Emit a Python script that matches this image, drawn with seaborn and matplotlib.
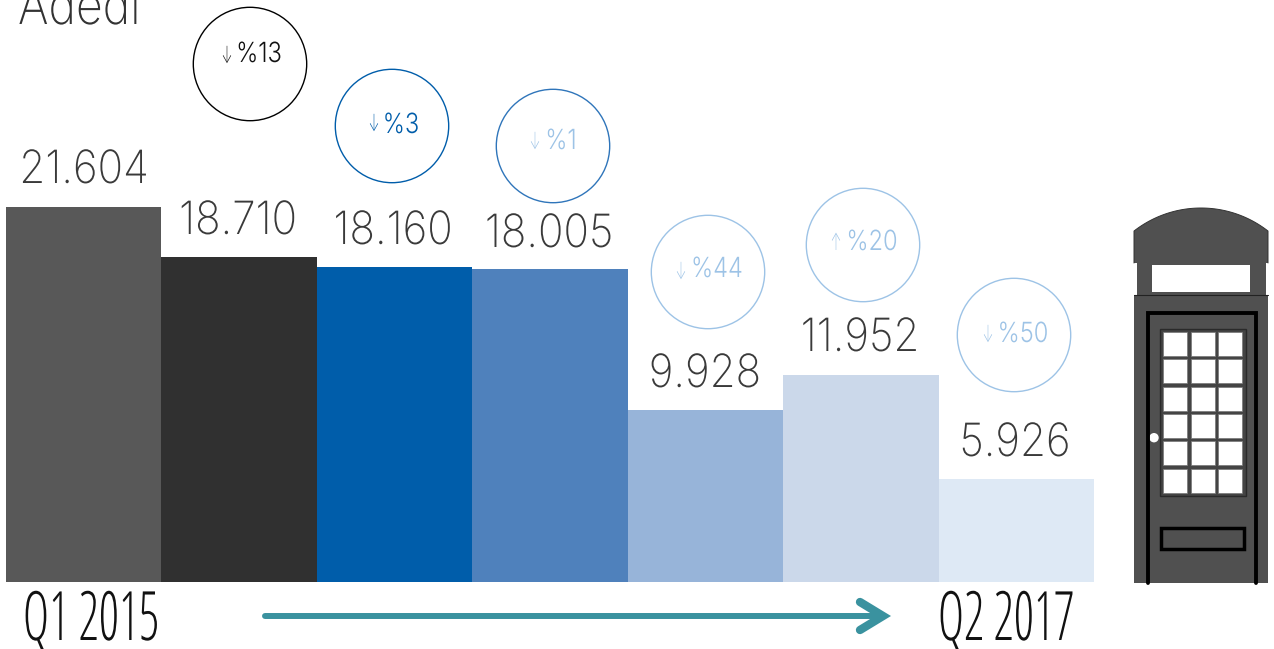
# %%
import matplotlib
matplotlib.use('Agg')
import matplotlib.pyplot as plt
from matplotlib.patches import Circle, Rectangle, Polygon
from matplotlib.patheffects import AbstractPathEffect
from matplotlib.transforms import Affine2D
import numpy as np
import pandas as pd
import seaborn as sns

# %%
# Dados
quarters = ['q1', 'q2', 'q3', 'q4', 'q5', 'q6', 'q7']
visits = [21604, 18710, 18160, 18005, 9928, 11952, 5926]
value_labels = ['21.604', '18.710', '18.160', '18.005', '9.928', '11.952', '5.926']
bar_colors = ['#585858', '#303030', '#005DAA', '#4F81BC', '#97B4D9', '#CBD8EA', '#DEE9F5']
change_labels = ['%13', '%3', '%1', '%44', '%20', '%50']
change_arrows = ['↓', '↓', '↓', '↓', '↑', '↓']
change_colors = ['#000000', '#005DAA', '#2F75BA', '#9DC3E6', '#9DC3E6', '#9DC3E6']
text_colors = ['#111111', '#005DAA', '#9DC3E6', '#9DC3E6', '#9DC3E6', '#9DC3E6']
start_label = 'Q1 2015'
end_label = 'Q2 2017'
title = 'Adedi'

# posicoes em pixels
label_xy = [(84, 183), (238, 234), (393, 244), (549, 247), (705, 387), (860, 351), (1015, 456)]
circle_xy = [(250, 64), (392, 126), (553, 146), (708, 272), (863, 245), (1014, 335)]
pct_xy = [(259, 62), (401, 133), (561, 149), (717, 277), (872, 250), (1023, 342)]
arrow_xy = [(227, 57), (374, 125), (535, 143), (681, 273), (836, 244), (988, 336)]

W, H = 1274, 649
sns.set_theme(style='white')
plt.rcParams['font.family'] = ['Inter', 'DejaVu Sans']


class SqueezeX(AbstractPathEffect):
    # aperta o texto na horizontal em torno de cx (pixels)
    def __init__(self, sx, cx):
        super().__init__()
        self.sx = sx
        self.cx = cx

    def draw_path(self, renderer, gc, tpath, affine, rgbFace=None):
        squeeze = Affine2D().translate(-self.cx, 0).scale(self.sx, 1).translate(self.cx, 0)
        renderer.draw_path(gc, tpath, affine + squeeze, rgbFace)


fig = plt.figure(figsize=(W / 100, H / 100), dpi=100)

# %%
# Barras
base = 582
ax = fig.add_axes([6 / W, (H - base) / H, (1094 - 6) / W, base / H])
df = pd.DataFrame({'quarter': quarters, 'visits': visits})
sns.barplot(data=df, x='quarter', y='visits', hue='quarter', palette=bar_colors,
            width=1, dodge=False, legend=False, saturation=1, linewidth=0, edgecolor='none', ax=ax)
ax.set_xlim(-0.5, 6.5)
ax.set_ylim(0, max(visits) * base / 375)
ax.axis('off')

# %%
# Camada em pixels
ov = fig.add_axes([0, 0, 1, 1])
ov.set_xlim(0, W)
ov.set_ylim(H, 0)
ov.axis('off')
ov.patch.set_alpha(0)

for (x, y), txt in zip(label_xy, value_labels):
    ov.text(x, y, txt, ha='center', va='baseline', fontsize=33, fontweight=200, color='#3a3a3a',
            path_effects=[SqueezeX(0.92, x)])

for (x, y), c in zip(circle_xy, change_colors):
    ov.add_patch(Circle((x, y), 56.7, fill=False, ec=c, lw=1))
for (x, y), txt, c in zip(pct_xy, change_labels, text_colors):
    ov.text(x, y, txt, ha='center', va='baseline', fontsize=20, fontweight=300, color=c,
            path_effects=[SqueezeX(0.85, x)])
for (x, y), txt, c in zip(arrow_xy, change_arrows, text_colors):
    ov.text(x, y, txt, ha='center', va='center', fontsize=17, fontweight=200, color=c,
            path_effects=[SqueezeX(0.55, x)])

ov.text(18, 24, title, ha='left', va='baseline', fontsize=38, fontweight=200, color='#333333',
        path_effects=[SqueezeX(0.88, 18)])

for x, txt in [(91, start_label), (1006, end_label)]:
    ov.text(x, 640, txt, ha='center', va='baseline', fontsize=49, color='#111111',
            family='Open Sans', fontweight=300, fontstretch='condensed',
            path_effects=[SqueezeX(0.74, x)])

# Seta
teal = '#3A929F'
ov.plot([265, 880], [616, 616], color=teal, lw=4.3, solid_capstyle='round')
ov.plot([860, 883, 860], [602, 616, 630], color=teal, lw=6, solid_capstyle='round', solid_joinstyle='miter')

# %%
# Cabine
booth = '#505050'
a = np.arccos(67 / 109)
t = np.linspace(a, np.pi - a, 60)
roof_x = 1201 + 109 * np.cos(t)
roof_y = 317 - 109 * np.sin(t)
ov.add_patch(Polygon(np.r_[np.c_[roof_x, roof_y], [[1134, 263], [1268, 263]]], fc=booth, ec='none'))
ov.plot(np.r_[1134, roof_x[::-1], 1268], np.r_[263, roof_y[::-1], 263], color='#333333', lw=0.7)
ov.add_patch(Rectangle((1137, 263), 129, 32, fc=booth, ec='none'))
ov.add_patch(Rectangle((1152, 265), 98, 27, fc='white', ec='none'))
ov.add_patch(Rectangle((1134, 295), 134, 288, fc=booth, ec='none'))
ov.plot([1134, 1268], [295, 295], color='#222222', lw=0.8)
ov.plot([1147.5, 1147.5, 1255.5, 1255.5], [583, 313, 313, 583], color='black', lw=2.8, solid_joinstyle='miter')
ov.add_patch(Rectangle((1160, 329), 86, 167, fc='#444444', ec='#2a2a2a', lw=1))
for py in [332, 359.3, 386.7, 414, 441.3, 468.7]:
    for px in [1163.3, 1190.7, 1218]:
        ov.add_patch(Rectangle((px, py), 24, 24, fc='white', ec='#777777', lw=0.5))
ov.add_patch(Circle((1154, 437.7), 4.7, fc='white', ec='none'))
ov.add_patch(Rectangle((1161, 527.5), 83, 21.5, fill=False, ec='black', lw=2.5))

fig.savefig('out.png', dpi=100)
